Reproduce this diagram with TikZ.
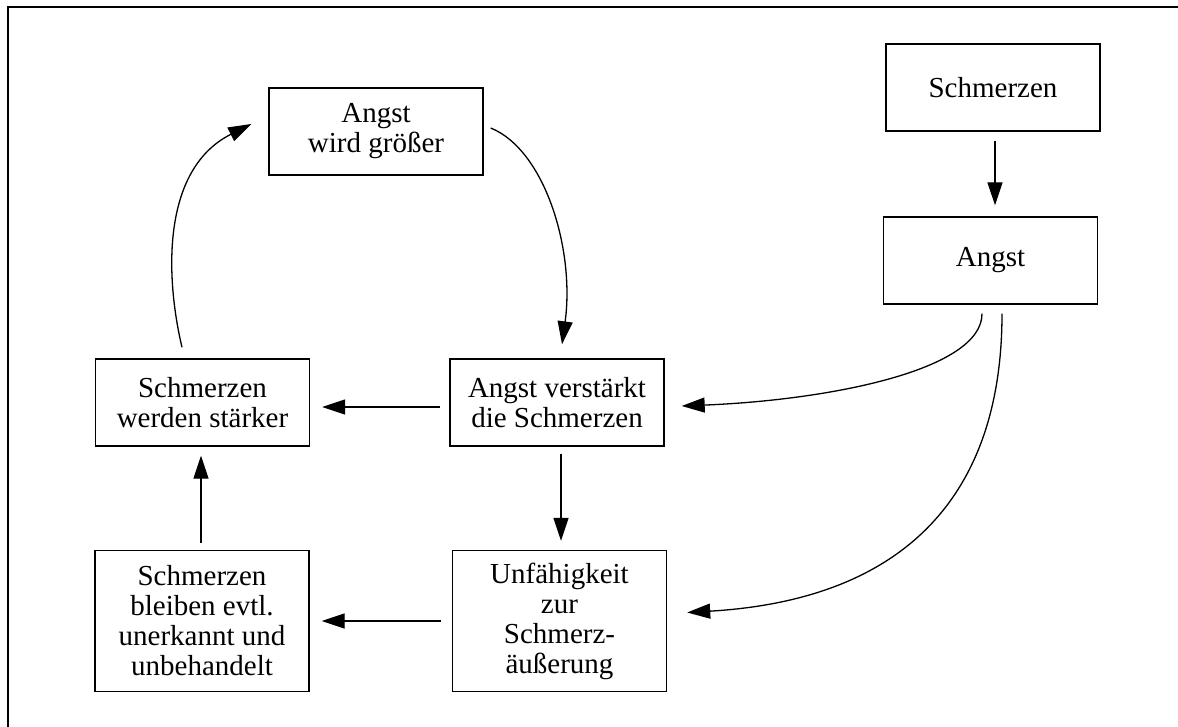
\documentclass[tikz,border=0pt]{standalone}
\usepackage{fontspec}
\setmainfont{Liberation Serif}
\usetikzlibrary{arrows.meta,calc}
\begin{document}
\begin{tikzpicture}[x=1pt,y=-1pt,
  box/.style={draw, line width=1.4pt, rectangle, align=center, inner sep=0pt,
    minimum width=214pt, minimum height=87pt, font=\fontsize{29}{30}\selectfont},
  tallbox/.style={box, minimum height=141pt},
  arr/.style={line width=1.3pt, -{Triangle[length=23pt,width=15pt]}},
  frameline/.style={line width=2.2pt, line join=miter}]
\useasboundingbox (0,0) rectangle (1178,727);
\clip (0,0) rectangle (1178,727);
% outer frame (only top and left edges fall inside the page)
\draw[frameline] (8,760) -- (8,7) -- (1220,7);

% boxes
\node[box] (gross) at (376,131.5) {Angst\\wird größer};
\node[box] (schm) at (993,87.5) {Schmerzen};
\node[box] (angst) at (990.5,260.5) {Angst};
\node[box] (staerker) at (202.5,402.5) {Schmerzen\\werden stärker};
\node[box] (verst) at (557,402.5) {Angst verstärkt\\die Schmerzen};
\node[tallbox] (bleiben) at (202,621) {Schmerzen\\bleiben evtl.\\unerkannt und\\unbehandelt};
\node[tallbox] (unf) at (559.5,621) {Unfähigkeit\\zur\\Schmerz-\\äußerung};

% straight connectors
\draw[arr] ($(schm.south)+(2,9)$) -- ($(angst.north)+(4.5,-11)$);
\draw[arr] ($(verst.west)+(-9,4.5)$) -- ($(staerker.east)+(12,4.5)$);
\draw[arr] ($(verst.south)+(4,7)$) -- ($(unf.north)+(1.5,-9)$);
\draw[arr] ($(unf.west)+(-11,0)$) -- ($(bleiben.east)+(12,0)$);
\draw[arr] ($(bleiben.north)+(-1,-7)$) -- ($(staerker.south)+(-1.5,9)$);

% curved connectors
\draw[arr] ($(staerker.north)+(-20.5,-11)$) .. controls (166,280) and (160,170) .. ($(gross.west)+(-17,-7.5)$);
\draw[arr] ($(gross.east)+(7,-3.5)$) .. controls (545,150) and (575,250) .. ($(verst.north)+(5,-14)$);
\draw[arr] ($(angst.south)+(-8.5,9)$) .. controls (982,370) and (830,400) .. ($(verst.east)+(17,3.5)$);
\draw[arr] ($(angst.south)+(11.5,9)$) .. controls (1002,500) and (900,600) .. ($(unf.east)+(20,-8.5)$);
\end{tikzpicture}
\end{document}
